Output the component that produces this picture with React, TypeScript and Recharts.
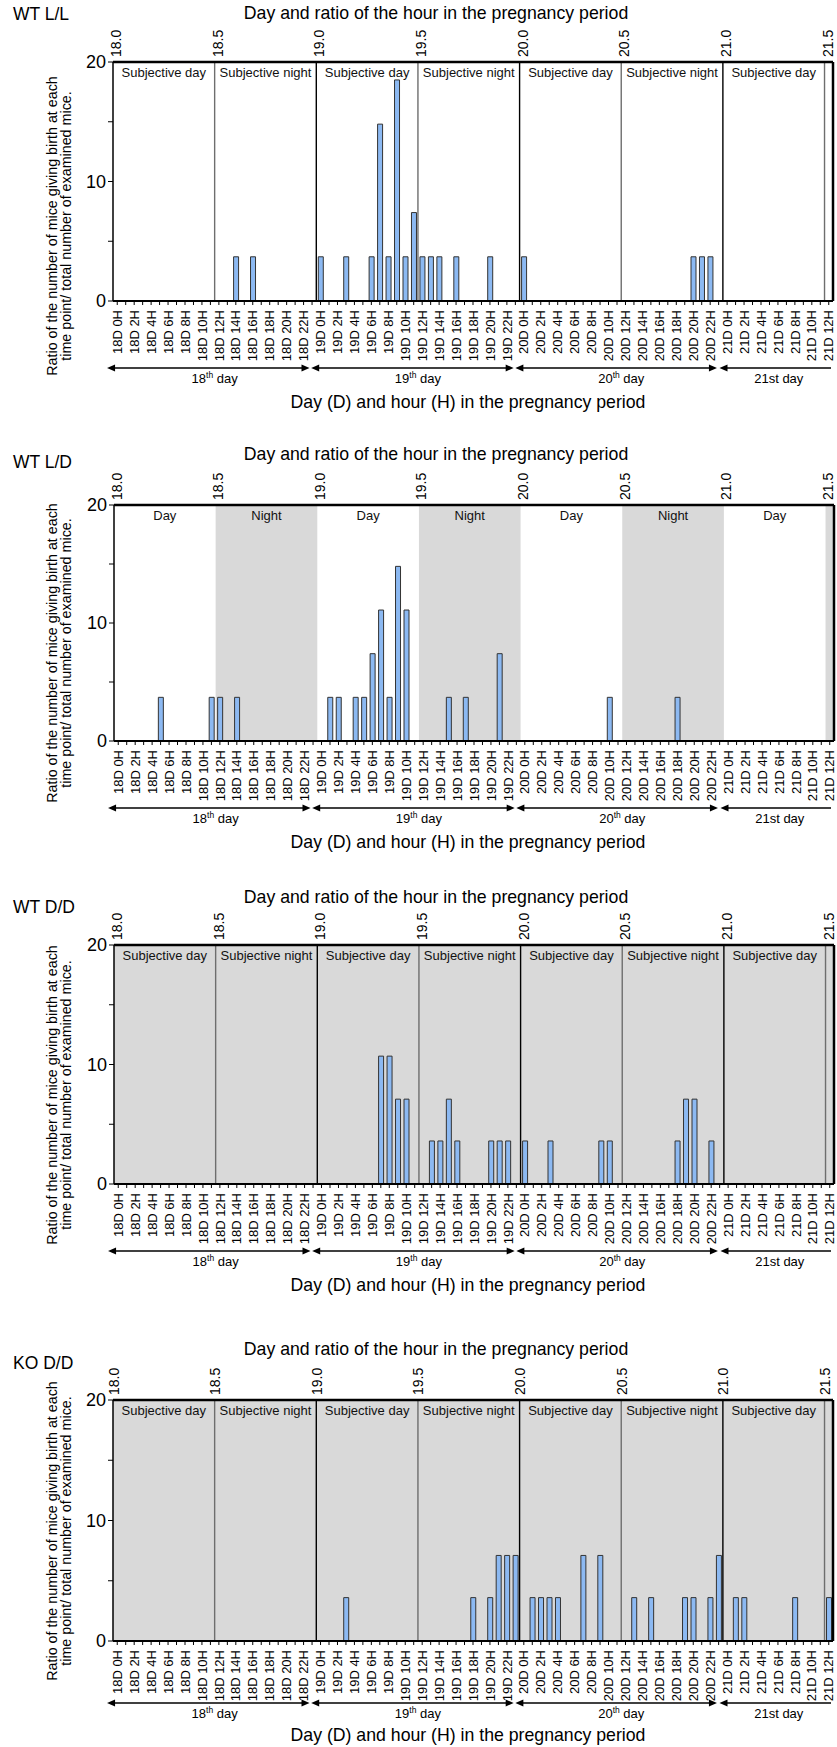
import React from "react";
import {
  ComposedChart,
  Bar,
  XAxis,
  YAxis,
  ReferenceArea,
  ReferenceLine,
} from "recharts";

// hours from 18D 0H to 21D 12H, one category per hour
const hourSlots = Array.from({ length: 85 }, (_, i) => i);

// WT L/L (n = 27)
const llHours = [14, 16, 24, 27, 30, 31, 32, 33, 34, 35, 36, 37, 38, 40, 44, 48, 68, 69, 70];
const llValues = [3.7, 3.7, 3.7, 3.7, 3.7, 14.8, 3.7, 18.5, 3.7, 7.4, 3.7, 3.7, 3.7, 3.7, 3.7, 3.7, 3.7, 3.7, 3.7];

// WT L/D (n = 27)
const ldHours = [5, 11, 12, 14, 25, 26, 28, 29, 30, 31, 32, 33, 34, 39, 41, 45, 58, 66];
const ldValues = [3.7, 3.7, 3.7, 3.7, 3.7, 3.7, 3.7, 3.7, 7.4, 11.1, 3.7, 14.8, 11.1, 3.7, 3.7, 7.4, 3.7, 3.7];

// WT D/D (n = 28)
const wtddHours = [31, 32, 33, 34, 37, 38, 39, 40, 44, 45, 46, 48, 51, 57, 58, 66, 67, 68, 70];
const wtddValues = [10.7, 10.7, 7.1, 7.1, 3.6, 3.6, 7.1, 3.6, 3.6, 3.6, 3.6, 3.6, 3.6, 3.6, 3.6, 3.6, 7.1, 7.1, 3.6];

// KO D/D (n = 28)
const koddHours = [27, 42, 44, 45, 46, 47, 49, 50, 51, 52, 55, 57, 61, 63, 67, 68, 70, 71, 73, 74, 80, 84];
const koddValues = [3.6, 3.6, 3.6, 7.1, 7.1, 7.1, 3.6, 3.6, 3.6, 3.6, 7.1, 7.1, 3.6, 3.6, 3.6, 3.6, 3.6, 7.1, 3.6, 3.6, 3.6, 3.6];

const dayTicks = [0, 12, 24, 36, 48, 60, 72, 84];
const segStarts = [0, 12, 24, 36, 48, 60, 72];
const yTicks = [0, 5, 10, 15, 20];
const dayArrows = [
  { from: -0.7, to: 23.2, mid: 12, num: "18", sup: "th", rest: " day" },
  { from: 23.4, to: 47.3, mid: 36, num: "19", sup: "th", rest: " day" },
  { from: 47.5, to: 71.3, mid: 60, num: "20", sup: "th", rest: " day" },
  { from: 71.6, to: 85.4, mid: 78.6, num: "21st day", sup: "", rest: "" },
];

const FONT = "'Liberation Sans', Arial, Helvetica, sans-serif";
const W = 837;
const PLOT_W = 720;
const TOP_H = 45;
const BOT_H = 65;

type Row = { hour: number; v: number };

const buildData = (hrs: number[], vals: number[]): Row[] =>
  hourSlots.map((h) => {
    const i = hrs.indexOf(h);
    return { hour: h, v: i >= 0 ? vals[i] : 0 };
  });

const hourLabel = (h: number) => `${18 + Math.floor(h / 24)}D ${h % 24}H`;

type Mode = "LL" | "LD" | "DD";

interface PanelCfg {
  name: string;
  mode: Mode;
  data: Row[];
  nameY: number;
  titleY: number;
  y20: number;
  y0: number;
  left: number;
  topDx: number;
  ylabY: number;
  arrowDy: number;
  dayDy: number;
  xTitleDy: number;
}

const Panel: React.FC<{ cfg: PanelCfg }> = ({ cfg }) => {
  const plotH = cfg.y0 - cfg.y20;
  const h = TOP_H + plotH + BOT_H;
  const isNight = (i: number) => i % 2 === 1;
  const segName = (i: number) => {
    if (cfg.mode === "LD") return isNight(i) ? "Night" : "Day";
    return isNight(i) ? "Subjective night" : "Subjective day";
  };

  const TopTick = (p: any) => {
    const x = p.x + cfg.topDx;
    const y = TOP_H - 5;
    return (
      <text
        x={x}
        y={y}
        transform={`rotate(-90 ${x} ${y})`}
        textAnchor="start"
        dy="0.36em"
        fontSize={14}
        fontFamily={FONT}
        fill="#000"
      >
        {(18 + p.payload.value / 24).toFixed(1)}
      </text>
    );
  };

  const HourTick = (p: any) => {
    const hr = Number(p.payload.value);
    if (hr % 2 !== 0) return <g />;
    const x = p.x;
    const y = TOP_H + plotH + 9;
    return (
      <text
        x={x}
        y={y}
        transform={`rotate(-90 ${x} ${y})`}
        textAnchor="end"
        dy="0.36em"
        fontSize={13}
        fontFamily={FONT}
        fill="#000"
      >
        {hourLabel(hr)}
      </text>
    );
  };

  return (
    <div style={{ position: "absolute", left: 0, top: cfg.y20 - TOP_H }}>
      <ComposedChart
        width={W}
        height={h}
        data={cfg.data}
        margin={{ top: 0, right: W - cfg.left - PLOT_W, bottom: 0, left: cfg.left - 35 }}
      >
        <XAxis
          xAxisId="top"
          orientation="top"
          type="number"
          dataKey="hour"
          domain={[0, 85]}
          allowDataOverflow
          ticks={dayTicks}
          interval={0}
          height={TOP_H}
          axisLine={{ stroke: "#000", strokeWidth: 2.5 }}
          tickLine={false}
          tick={TopTick}
        />
        <XAxis
          xAxisId="cat"
          dataKey="hour"
          type="category"
          interval={0}
          height={BOT_H}
          tickSize={4}
          tickLine={{ stroke: "#000" }}
          axisLine={{ stroke: "#000", strokeWidth: 2 }}
          tick={HourTick}
        />
        <YAxis
          domain={[0, 20]}
          ticks={yTicks}
          interval={0}
          width={35}
          tickSize={5}
          tickLine={{ stroke: "#000" }}
          axisLine={{ stroke: "#000", strokeWidth: 1.5 }}
          tickFormatter={(v: number) => (v % 10 === 0 ? String(v) : "")}
          tick={{ fontSize: 18, fill: "#000", fontFamily: FONT }}
        />
        {cfg.mode === "DD" && (
          <ReferenceArea xAxisId="top" x1={0} x2={85} fill="#d9d9d9" fillOpacity={1} stroke="none" />
        )}
        {cfg.mode === "LD" &&
          [12, 36, 60, 84].map((s) => (
            <ReferenceArea
              key={`n${s}`}
              xAxisId="top"
              x1={s}
              x2={Math.min(s + 12, 85)}
              fill="#d9d9d9"
              fillOpacity={1}
              stroke="none"
            />
          ))}
        {segStarts.map((s, i) => (
          <ReferenceArea
            key={`s${s}`}
            xAxisId="top"
            x1={s}
            x2={s + 12}
            fill="none"
            fillOpacity={0}
            stroke="none"
            label={{
              value: segName(i),
              position: "insideTop",
              offset: 6,
              fontSize: 13,
              fill: "#111",
              fontFamily: FONT,
            }}
          />
        ))}
        {cfg.mode !== "LD" &&
          [12, 24, 36, 48, 60, 72, 84].map((x) => (
            <ReferenceLine
              key={`l${x}`}
              xAxisId="top"
              x={x}
              stroke={x % 24 === 0 ? "#000" : "#6e6e6e"}
              strokeWidth={1.4}
            />
          ))}
        <ReferenceLine xAxisId="top" x={85} stroke="#000" strokeWidth={2.5} />
        <Bar
          xAxisId="cat"
          dataKey="v"
          barSize={5}
          fill="#8cb9f2"
          stroke="#333"
          strokeWidth={1}
          isAnimationActive={false}
        />
      </ComposedChart>
    </div>
  );
};

const panels: PanelCfg[] = [
  {
    name: "WT L/L", mode: "LL", data: buildData(llHours, llValues),
    nameY: 20, titleY: 19, y20: 62, y0: 301, left: 113, topDx: 3, ylabY: 226,
    arrowDy: 67, dayDy: 82, xTitleDy: 107,
  },
  {
    name: "WT L/D", mode: "LD", data: buildData(ldHours, ldValues),
    nameY: 468, titleY: 460, y20: 505, y0: 741, left: 114, topDx: 2.5, ylabY: 653,
    arrowDy: 67, dayDy: 82, xTitleDy: 107,
  },
  {
    name: "WT D/D", mode: "DD", data: buildData(wtddHours, wtddValues),
    nameY: 913, titleY: 903, y20: 945, y0: 1184, left: 114, topDx: 3, ylabY: 1095,
    arrowDy: 67, dayDy: 82, xTitleDy: 107,
  },
  {
    name: "KO D/D", mode: "DD", data: buildData(koddHours, koddValues),
    nameY: 1369, titleY: 1355, y20: 1400, y0: 1641, left: 113, topDx: 0.5, ylabY: 1531,
    arrowDy: 62, dayDy: 77, xTitleDy: 100,
  },
];

const Overlay: React.FC = () => (
  <svg
    width={W}
    height={1747}
    style={{ position: "absolute", left: 0, top: 0, pointerEvents: "none" }}
    fontFamily={FONT}
  >
    {panels.map((p) => {
      const px = (hr: number) => p.left + (hr * PLOT_W) / 85;
      const ay = p.y0 + p.arrowDy;
      return (
        <g key={p.name}>
          <text x={13} y={p.nameY} fontSize={17.5} fill="#000">
            {p.name}
          </text>
          <text x={436} y={p.titleY} fontSize={17.7} textAnchor="middle" fill="#000">
            Day and ratio of the hour in the pregnancy period
          </text>
          <g transform={`translate(57, ${p.ylabY}) rotate(-90)`}>
            <text x={0} y={0} fontSize={14.3} textAnchor="middle" fill="#000">
              Ratio of the number of mice giving birth at each
            </text>
            <text x={0} y={14} fontSize={14.3} textAnchor="middle" fill="#000">
              time point/ total number of examined mice.
            </text>
          </g>
          {dayArrows.map((d) => {
            const x1 = px(d.from);
            const x2 = Math.min(px(d.to), W - 1);
            return (
              <g key={d.num}>
                <line x1={x1 + 5} x2={x2 - 5} y1={ay} y2={ay} stroke="#000" strokeWidth={1.5} />
                <polygon points={`${x1},${ay} ${x1 + 8},${ay - 3.5} ${x1 + 8},${ay + 3.5}`} fill="#000" />
                {d.to < 85 && (
                  <polygon points={`${x2},${ay} ${x2 - 8},${ay - 3.5} ${x2 - 8},${ay + 3.5}`} fill="#000" />
                )}
                <text x={px(d.mid)} y={p.y0 + p.dayDy} fontSize={13} textAnchor="middle" fill="#000">
                  {d.num}
                  {d.sup && (
                    <tspan fontSize={8.5} dy={-5}>
                      {d.sup}
                    </tspan>
                  )}
                  {d.rest && <tspan dy={d.sup ? 5 : 0}>{d.rest}</tspan>}
                </text>
              </g>
            );
          })}
          <text x={468} y={p.y0 + p.xTitleDy} fontSize={17.7} textAnchor="middle" fill="#000">
            Day (D) and hour (H) in the pregnancy period
          </text>
        </g>
      );
    })}
  </svg>
);

export default function App() {
  return (
    <div style={{ position: "absolute", left: 0, top: 0, width: W, height: 1747, background: "#fff" }}>
      {panels.map((p) => (
        <Panel key={p.name} cfg={p} />
      ))}
      <Overlay />
    </div>
  );
}
